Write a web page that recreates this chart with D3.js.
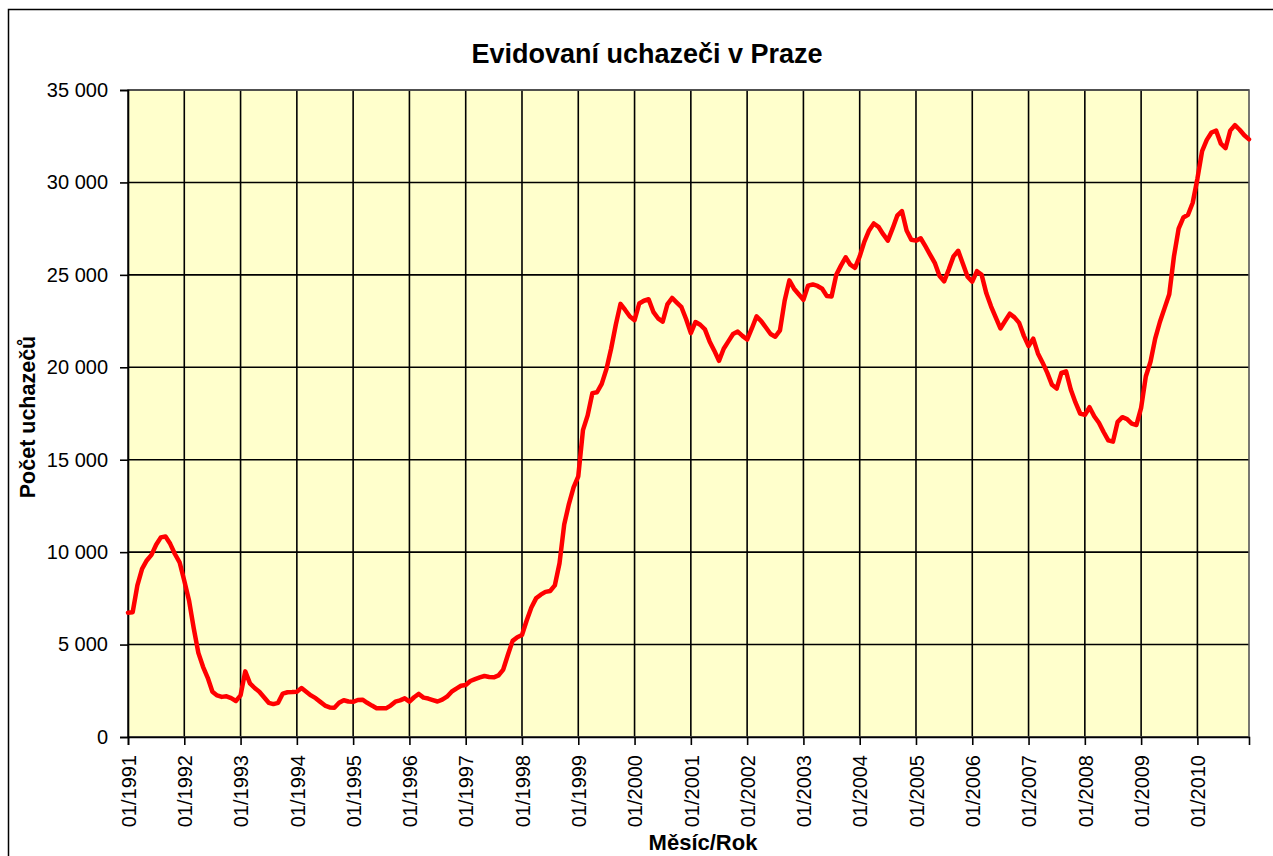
<!DOCTYPE html>
<html>
<head>
<meta charset="utf-8">
<script src="https://cdn.jsdelivr.net/npm/d3@7"></script>
<style>
  html, body { margin: 0; padding: 0; background: #ffffff; }
  svg { display: block; font-family: "Liberation Sans", Arial, sans-serif; }
</style>
</head>
<body>
<svg id="chart" width="1273" height="856"></svg>
<script>
// ---------- DATA ----------
const years = [1991,1992,1993,1994,1995,1996,1997,1998,1999,2000,2001,2002,2003,2004,2005,2006,2007,2008,2009,2010];
const monthNames = ["01","02","03","04","05","06","07","08","09","10","11","12"];

// Počet evidovaných uchazečů v Praze, měsíčně 01/1991 – 12/2010
const v1991 = [6720, 6750, 8200, 9100, 9550, 9850, 10400, 10800, 10850, 10450, 9900, 9450];
const v1992 = [8450, 7400, 5900, 4550, 3800, 3200, 2450, 2250, 2170, 2200, 2100, 1950];
const v1993 = [2250, 3550, 2900, 2650, 2450, 2150, 1850, 1780, 1850, 2350, 2420, 2430];
const v1994 = [2450, 2650, 2450, 2250, 2100, 1900, 1700, 1600, 1580, 1850, 1990, 1920];
const v1995 = [1900, 2000, 2020, 1850, 1700, 1560, 1550, 1550, 1700, 1910, 1980, 2090];
const v1996 = [1910, 2150, 2330, 2130, 2080, 2000, 1920, 2020, 2180, 2450, 2620, 2770];
const v1997 = [2810, 3030, 3130, 3220, 3300, 3250, 3230, 3330, 3650, 4450, 5200, 5400];
const v1998 = [5520, 6300, 7000, 7500, 7700, 7850, 7900, 8200, 9400, 11500, 12600, 13500];
const v1999 = [14100, 16600, 17400, 18600, 18650, 19100, 19900, 21000, 22300, 23430, 23100, 22750];
const v2000 = [22550, 23450, 23600, 23680, 23000, 22650, 22470, 23400, 23750, 23500, 23250, 22600];
const v2001 = [21850, 22450, 22300, 22050, 21400, 20900, 20350, 21000, 21400, 21800, 21930, 21700];
const v2002 = [21500, 22100, 22750, 22500, 22150, 21800, 21650, 22000, 23600, 24700, 24250, 23950];
const v2003 = [23650, 24420, 24480, 24400, 24250, 23850, 23830, 25000, 25500, 25950, 25550, 25380];
const v2004 = [26000, 26800, 27400, 27780, 27600, 27200, 26850, 27500, 28200, 28450, 27400, 26900];
const v2005 = [26850, 26980, 26550, 26100, 25650, 24950, 24650, 25300, 26000, 26300, 25600, 24900];
const v2006 = [24630, 25200, 25000, 24000, 23300, 22700, 22100, 22500, 22900, 22700, 22400, 21700];
const v2007 = [21150, 21550, 20750, 20250, 19700, 19050, 18850, 19700, 19780, 18800, 18100, 17500];
const v2008 = [17420, 17840, 17350, 17000, 16500, 16050, 15980, 17050, 17300, 17200, 16950, 16880];
const v2009 = [17800, 19500, 20300, 21550, 22450, 23200, 23950, 26000, 27500, 28100, 28250, 28900];
const v2010 = [30200, 31700, 32300, 32700, 32800, 32100, 31850, 32800, 33100, 32850, 32550, 32330];

const seriesByYear = [v1991,v1992,v1993,v1994,v1995,v1996,v1997,v1998,v1999,v2000,
                      v2001,v2002,v2003,v2004,v2005,v2006,v2007,v2008,v2009,v2010];

const yTicks = [0, 5000, 10000, 15000, 20000, 25000, 30000, 35000];
const xTickLabels = ["01/1991","01/1992","01/1993","01/1994","01/1995","01/1996","01/1997",
  "01/1998","01/1999","01/2000","01/2001","01/2002","01/2003","01/2004","01/2005",
  "01/2006","01/2007","01/2008","01/2009","01/2010"];

const titleText = "Evidovaní uchazeči v Praze";
const yTitle = "Počet uchazečů";
const xTitle = "Měsíc/Rok";

// categories (Měsíc/Rok) and values
const categories = [];
const values = [];
years.forEach((y, yi) => {
  monthNames.forEach((m, mi) => {
    categories.push(m + "/" + y);
    values.push(seriesByYear[yi][mi]);
  });
});
const data = categories.map((c, i) => ({ cat: c, val: values[i] }));

// ---------- LAYOUT ----------
const W = 1273, H = 856;
const plot = { left: 128, top: 90, right: 1249, bottom: 737 };

const svg = d3.select("#chart");

svg.append("rect").attr("x", 0).attr("y", 0).attr("width", W).attr("height", H).attr("fill", "#ffffff");

// outer chart border (extends beyond the picture on right/bottom)
svg.append("rect")
  .attr("x", 8.5).attr("y", 9.5)
  .attr("width", 1300).attr("height", 900)
  .attr("fill", "none").attr("stroke", "#000").attr("stroke-width", 1.5);

const x = d3.scalePoint().domain(categories).range([plot.left, plot.right]);
const y = d3.scaleLinear().domain([0, 35000]).range([plot.bottom, plot.top]);

// plot background
svg.append("rect")
  .attr("x", plot.left).attr("y", plot.top)
  .attr("width", plot.right - plot.left).attr("height", plot.bottom - plot.top)
  .attr("fill", "#FFFFCC");

const tickCats = xTickLabels;

// gridlines
const grid = svg.append("g").attr("stroke", "#000").attr("stroke-width", 1.6);
grid.selectAll("line.h").data(yTicks).join("line")
  .attr("x1", plot.left).attr("x2", plot.right)
  .attr("y1", d => y(d)).attr("y2", d => y(d));
grid.selectAll("line.v").data(tickCats).join("line")
  .attr("x1", d => x(d)).attr("x2", d => x(d))
  .attr("y1", plot.top).attr("y2", plot.bottom);

// plot border
svg.append("rect")
  .attr("x", plot.left).attr("y", plot.top)
  .attr("width", plot.right - plot.left).attr("height", plot.bottom - plot.top)
  .attr("fill", "none").attr("stroke", "#555").attr("stroke-width", 1.6);

// axes
const fmt = d3.formatLocale({ decimal: ",", thousands: " ", grouping: [3], currency: ["", " Kč"] }).format(",d");

const yAxis = d3.axisLeft(y).tickValues(yTicks).tickFormat(fmt).tickSize(8).tickPadding(12);
const gy = svg.append("g").attr("transform", `translate(${plot.left},0)`).call(yAxis);
gy.select(".domain").attr("stroke", "#000").attr("stroke-width", 1.6);
gy.selectAll(".tick line").attr("stroke", "#000").attr("stroke-width", 1.6);
gy.selectAll(".tick text").attr("font-size", 20).attr("fill", "#000")
  .attr("font-family", "'Liberation Sans', Arial, sans-serif");

const xAxis = d3.axisBottom(x).tickValues(tickCats).tickSize(8).tickFormat(d => d);
const gx = svg.append("g").attr("transform", `translate(0,${plot.bottom})`).call(xAxis);
gx.select(".domain").attr("stroke", "#000").attr("stroke-width", 1.6);
gx.selectAll(".tick line").attr("stroke", "#000").attr("stroke-width", 1.6);
gx.selectAll(".tick text")
  .attr("font-size", 20).attr("fill", "#000")
  .attr("font-family", "'Liberation Sans', Arial, sans-serif")
  .attr("text-anchor", "end")
  .attr("transform", "translate(0,18) rotate(-90)")
  .attr("x", 0).attr("y", 0).attr("dy", "0.36em");

// line
const line = d3.line().x(d => x(d.cat)).y(d => y(d.val));
svg.append("path").datum(data)
  .attr("d", line)
  .attr("fill", "none")
  .attr("stroke", "#FF0000")
  .attr("stroke-width", 4.5)
  .attr("stroke-linejoin", "round")
  .attr("stroke-linecap", "round");

// titles
svg.append("text")
  .attr("x", 647).attr("y", 63)
  .attr("text-anchor", "middle")
  .attr("font-size", 27).attr("font-weight", "bold")
  .text(titleText);

svg.append("text")
  .attr("transform", "translate(35,417) rotate(-90)")
  .attr("text-anchor", "middle")
  .attr("font-size", 21.5).attr("font-weight", "bold")
  .text(yTitle);

svg.append("text")
  .attr("x", 703).attr("y", 850)
  .attr("text-anchor", "middle")
  .attr("font-size", 22).attr("font-weight", "bold")
  .text(xTitle);
</script>
</body>
</html>
